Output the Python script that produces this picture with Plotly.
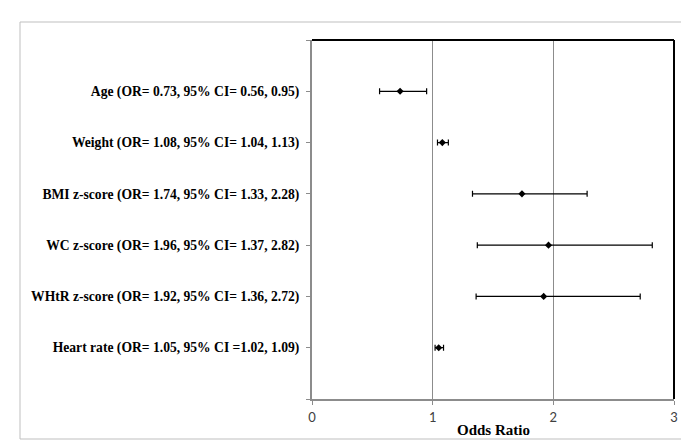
import plotly.graph_objects as go

labels = [
    "Age (OR= 0.73, 95% CI= 0.56, 0.95)",
    "Weight (OR= 1.08, 95% CI= 1.04, 1.13)",
    "BMI z-score (OR= 1.74, 95% CI= 1.33, 2.28)",
    "WC z-score (OR= 1.96, 95% CI= 1.37, 2.82)",
    "WHtR z-score (OR= 1.92, 95% CI= 1.36, 2.72)",
    "Heart rate (OR= 1.05, 95% CI =1.02, 1.09)",
]
odds_ratio = [0.73, 1.08, 1.74, 1.96, 1.92, 1.05]
ci_low = [0.56, 1.04, 1.33, 1.37, 1.36, 1.02]
ci_high = [0.95, 1.13, 2.28, 2.82, 2.72, 1.09]
positions = [6, 5, 4, 3, 2, 1]
x_ticks = [0, 1, 2, 3]

err_plus = [h - o for h, o in zip(ci_high, odds_ratio)]
err_minus = [o - l for o, l in zip(odds_ratio, ci_low)]

fig = go.Figure()
fig.add_trace(go.Scatter(
    x=odds_ratio, y=positions, mode="markers",
    marker=dict(symbol="diamond", size=5.5, color="black"),
    error_x=dict(type="data", symmetric=False, array=err_plus, arrayminus=err_minus,
                 color="black", thickness=1.2, width=3),
    showlegend=False, hoverinfo="x",
))

W, H = 689, 448
L, R, T, B = 304, 23, 32, 57
pw = W - L - R
ph = H - T - B

def px_x(p):
    return (p - L) / pw

def px_y(p):
    return (H - B - p) / ph

fig.update_layout(
    width=W, height=H,
    margin=dict(l=L, r=R, t=T, b=B),
    paper_bgcolor="white", plot_bgcolor="white",
    xaxis=dict(
        range=[0, 3], tickvals=x_ticks, ticktext=[str(v) for v in x_ticks],
        showgrid=True, gridcolor="#8c8c8c", gridwidth=1,
        showline=True, linecolor="#8c8c8c", linewidth=2,
        ticks="outside", ticklen=4, tickcolor="#8c8c8c",
        tickfont=dict(family="Lato", size=13, color="#404040"),
        ticklabelstandoff=1, zeroline=False, fixedrange=True,
    ),
    yaxis=dict(
        range=[0, 7], tickvals=[0] + positions[::-1] + [7],
        ticktext=[""] + labels[::-1] + [""],
        showgrid=False, showline=True, linecolor="#8c8c8c", linewidth=2,
        ticks="outside", ticklen=4, tickcolor="#8c8c8c",
        tickfont=dict(family="Liberation Serif", size=13.6, color="black", weight="bold"),
        ticklabelstandoff=4, zeroline=False, fixedrange=True,
    ),
    shapes=[
        dict(type="rect", xref="paper", yref="paper",
             x0=px_x(12), x1=px_x(678), y0=px_y(431), y1=px_y(14),
             line=dict(color="#bfbfbf", width=1), layer="below"),
        dict(type="line", xref="paper", yref="paper", x0=0, x1=1, y0=1, y1=1,
             line=dict(color="black", width=2)),
        dict(type="line", xref="paper", yref="paper", x0=1, x1=1, y0=0, y1=1,
             line=dict(color="black", width=2)),
    ],
    annotations=[
        dict(text="Odds Ratio", xref="paper", yref="paper", x=0.5, y=px_y(422),
             showarrow=False, xanchor="center", yanchor="middle",
             font=dict(family="Liberation Serif", size=15, color="black", weight="bold")),
    ],
)

fig.write_html("out.html")
